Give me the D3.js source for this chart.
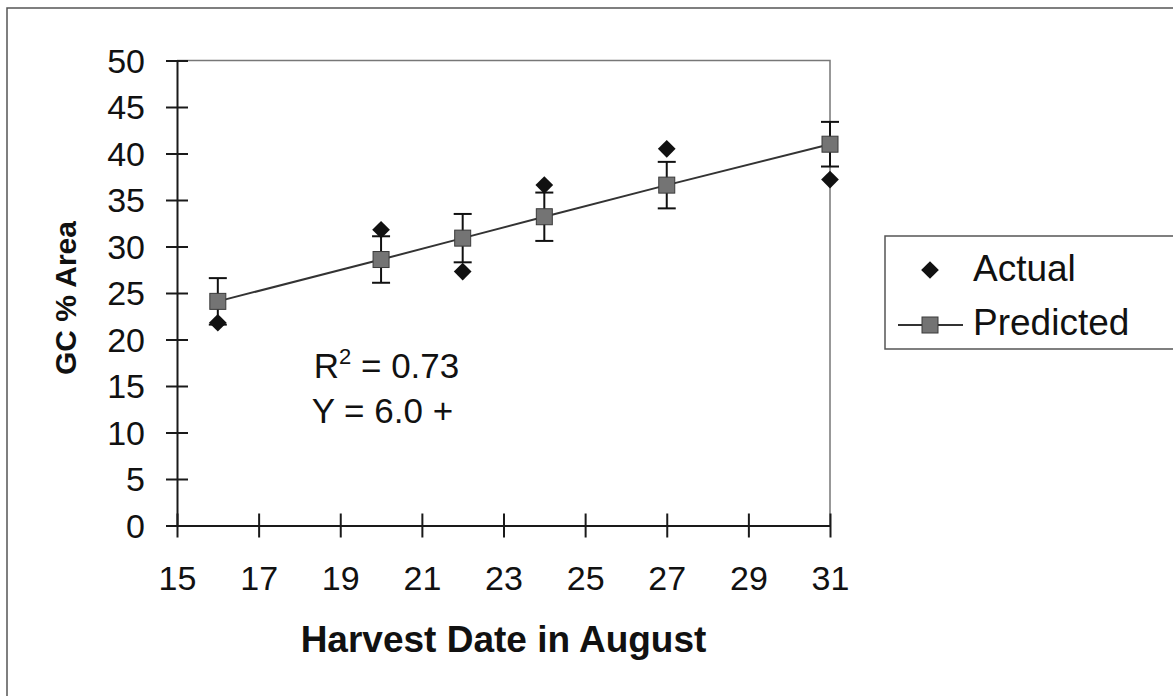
<!DOCTYPE html>
<html>
<head>
<meta charset="utf-8">
<script src="https://cdn.jsdelivr.net/npm/d3@7"></script>
<style>
  body { margin: 0; background: #fff; }
  svg { display: block; font-family: Arial, "Liberation Sans", sans-serif; }
  .axis path, .axis line { stroke: #1a1a1a; stroke-width: 2; }
  .axis text { fill: #111; font-size: 34px; }
</style>
</head>
<body>
<div id="container"></div>
<script>
const W = 1173, H = 696;

// harvest dates (day of August)
const days = [16, 20, 22, 24, 27, 31];
const actual = [21.8, 31.8, 27.3, 36.6, 40.5, 37.2];
const predicted = [24.1, 28.6, 30.9, 33.2, 36.6, 41.0];
const errors = [2.5, 2.5, 2.6, 2.6, 2.5, 2.4];
const xTicks = [15, 17, 19, 21, 23, 25, 27, 29, 31];
const yTicks = [0, 5, 10, 15, 20, 25, 30, 35, 40, 45, 50];

const x = d3.scaleLinear().domain([15, 31]).range([177, 830]);
const y = d3.scaleLinear().domain([0, 50]).range([525.5, 60.5]);

const svg = d3.select('#container').append('svg')
  .attr('width', W).attr('height', H);

// outer chart frame
svg.append('rect')
  .attr('x', 7).attr('y', 8)
  .attr('width', W + 20).attr('height', H + 20)
  .attr('fill', 'none').attr('stroke', '#555').attr('stroke-width', 1.5);

// plot area frame (top and right)
svg.append('path')
  .attr('d', 'M' + x(15) + ',' + y(50) + 'H' + x(31) + 'V' + y(0))
  .attr('fill', 'none').attr('stroke', '#777').attr('stroke-width', 1.5);

// y axis
const yAxis = svg.append('g')
  .attr('class', 'axis')
  .attr('transform', 'translate(' + x(15) + ',0)')
  .call(d3.axisLeft(y).tickValues(yTicks).tickSizeOuter(0));
yAxis.selectAll('.tick line').attr('x1', -11).attr('x2', 11);
yAxis.selectAll('.tick text').attr('x', -32).attr('dy', '0.35em');

// x axis
const xAxis = svg.append('g')
  .attr('class', 'axis')
  .attr('transform', 'translate(0,' + y(0) + ')')
  .call(d3.axisBottom(x).tickValues(xTicks).tickSizeOuter(0));
xAxis.selectAll('.tick line').attr('y1', -12).attr('y2', 12);
xAxis.selectAll('.tick text').attr('y', 64).attr('dy', 0);

// axis titles
svg.append('text')
  .attr('x', (x(15) + x(31)) / 2).attr('y', 652)
  .attr('text-anchor', 'middle')
  .style('font-size', '37px').style('font-weight', 'bold').attr('fill', '#111')
  .text('Harvest Date in August');

svg.append('text')
  .attr('transform', 'translate(76,' + 298 + ') rotate(-90)')
  .attr('text-anchor', 'middle')
  .style('font-size', '30px').style('font-weight', 'bold').attr('fill', '#111')
  .text('GC % Area');

// regression line through predicted values
svg.append('path')
  .datum(days.map((d, i) => [d, predicted[i]]))
  .attr('d', d3.line().x(d => x(d[0])).y(d => y(d[1])))
  .attr('fill', 'none').attr('stroke', '#333').attr('stroke-width', 2);

// error bars
const eb = svg.append('g').attr('stroke', '#111').attr('stroke-width', 2);
days.forEach((d, i) => {
  const cx = x(d), top = y(predicted[i] + errors[i]), bot = y(predicted[i] - errors[i]);
  eb.append('line').attr('x1', cx).attr('x2', cx).attr('y1', top).attr('y2', bot);
  eb.append('line').attr('x1', cx - 9).attr('x2', cx + 9).attr('y1', top).attr('y2', top);
  eb.append('line').attr('x1', cx - 9).attr('x2', cx + 9).attr('y1', bot).attr('y2', bot);
});

const diamond = d3.symbol().type(d3.symbolDiamond2).size(200);

// actual points
svg.append('g').selectAll('path')
  .data(days)
  .enter().append('path')
  .attr('transform', (d, i) => 'translate(' + x(d) + ',' + y(actual[i]) + ')')
  .attr('d', diamond())
  .attr('fill', '#111');

// predicted points
svg.append('g').selectAll('rect')
  .data(days)
  .enter().append('rect')
  .attr('x', d => x(d) - 8)
  .attr('y', (d, i) => y(predicted[i]) - 8)
  .attr('width', 16).attr('height', 16)
  .attr('fill', '#747474').attr('stroke', '#3a3a3a').attr('stroke-width', 1);

// annotation
svg.append('text')
  .attr('x', x(18.35)).attr('y', y(15.85))
  .style('font-size', '35px').attr('fill', '#111')
  .html('R<tspan dy="-14" style="font-size:22px">2</tspan><tspan dy="14"> = 0.73</tspan>');
svg.append('text')
  .attr('x', x(18.3)).attr('y', y(11.0))
  .style('font-size', '35px').attr('fill', '#111')
  .text('Y = 6.0 +');

// legend
const lg = svg.append('g');
lg.append('rect')
  .attr('x', 885).attr('y', 236).attr('width', 320).attr('height', 113)
  .attr('fill', '#fff').attr('stroke', '#555').attr('stroke-width', 1.5);
lg.append('path')
  .attr('transform', 'translate(930,270)')
  .attr('d', diamond())
  .attr('fill', '#111');
lg.append('text').attr('x', 973).attr('y', 281)
  .style('font-size', '37px').attr('fill', '#111').text('Actual');
lg.append('line')
  .attr('x1', 898).attr('x2', 963).attr('y1', 325).attr('y2', 325)
  .attr('stroke', '#333').attr('stroke-width', 2);
lg.append('rect')
  .attr('x', 922).attr('y', 317).attr('width', 16).attr('height', 16)
  .attr('fill', '#747474').attr('stroke', '#3a3a3a').attr('stroke-width', 1);
lg.append('text').attr('x', 973).attr('y', 335)
  .style('font-size', '37px').attr('fill', '#111').text('Predicted');
</script>
</body>
</html>
